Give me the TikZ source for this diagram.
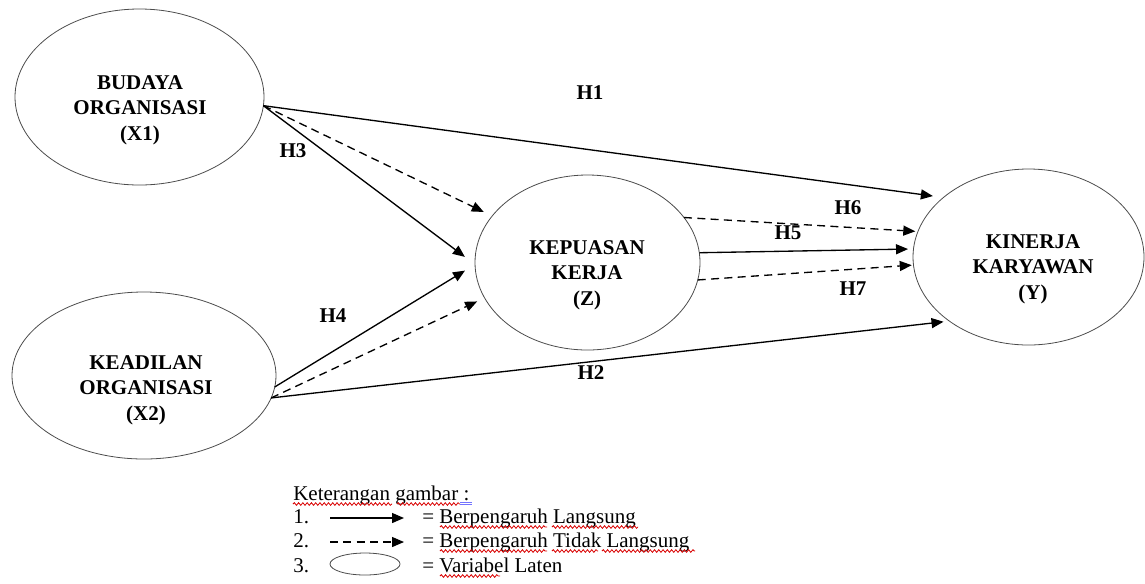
\documentclass[tikz,border=0pt]{standalone}
\usepackage{fontspec}
\setmainfont{Liberation Serif}
\usetikzlibrary{shapes.geometric,arrows.meta,decorations.pathmorphing}
\begin{document}
\begin{tikzpicture}[x=0.75pt,y=-0.75pt,
  latent/.style={ellipse,draw=black!70,line width=0.6pt,inner sep=0pt,outer sep=0pt},
  vtext/.style={align=center,font=\bfseries\fontsize{15.75}{19.1}\selectfont,inner sep=0pt},
  hlbl/.style={font=\bfseries\fontsize{15.75}{19}\selectfont,inner sep=0pt},
  direct/.style={line width=1pt,-{Triangle[length=9pt,width=7.5pt]}},
  indirect/.style={direct,dash pattern=on 6pt off 4pt},
  legtext/.style={font=\fontsize{15.75}{19}\selectfont,anchor=base west,inner sep=0pt},
  wavy/.style={draw=red!85!black,line width=0.6pt,decorate,decoration={snake,amplitude=1pt,segment length=3.2pt}},
  blueline/.style={draw=blue!55,line width=0.5pt}
]
\useasboundingbox (0,0) rectangle (1145,583);

% latent variables
\node[latent,minimum width=186.75pt,minimum height=132pt] (x1) at (139.5,97) {};
\node[latent,minimum width=198pt,minimum height=125.25pt] (x2) at (144,375.5) {};
\node[latent,minimum width=168.75pt,minimum height=131.25pt] (z) at (587.5,262.5) {};
\node[latent,minimum width=173.25pt,minimum height=132pt] (y) at (1028.5,257) {};

\node[vtext] (x1t) at (140,110) {BUDAYA\\ORGANISASI\\(X1)};
\node[vtext] (x2t) at (146,390) {KEADILAN\\ORGANISASI\\(X2)};
\node[vtext] (zt) at (587,275) {KEPUASAN\\KERJA\\(Z)};
\node[vtext] (yt) at (1033,269) {KINERJA\\KARYAWAN\\(Y)};

% paths
\draw[direct,shorten >=8pt] (x1.-4.6) -- (y.145.1);
\draw[indirect,shorten >=7pt] (x1.-4.6) -- (z.154.6);
\draw[direct,shorten >=9.5pt] (x1.-4.6) -- (z.181.6);
\draw[direct,shorten >=8.8pt] (x2.-5) -- (z.181.7);
\draw[indirect,shorten >=6.2pt] (x2.-10.6) -- (z.199.9);
\draw[direct,shorten >=4.4pt] (x2.-10.6) -- (y.219.1);
\draw[indirect,shorten >=2pt] (z.25.7) -- (y.167.4);
\draw[direct,shorten >=4.1pt] (z.5.4) -- (y.176);
\draw[indirect,shorten >=1.3pt] (z.-9) -- (y.184.9);

% hypothesis labels
\node[hlbl] (h1) at (590,93) {H1};
\node[hlbl] (h3) at (293,151) {H3};
\node[hlbl] (h6) at (848,208) {H6};
\node[hlbl] (h5) at (788,233) {H5};
\node[hlbl] (h7) at (853,289) {H7};
\node[hlbl] (h4) at (333,316) {H4};
\node[hlbl] (h2) at (591,373) {H2};

% legend
\node[legtext] (lk) at (293,500) {Keterangan gambar :};
\node[legtext] (ln1) at (293,523) {1.};
\node[legtext] (ln2) at (293,547) {2.};
\node[legtext] (ln3) at (293,572) {3.};
\coordinate (l1s) at (330,518);
\coordinate (l1e) at (404,518);
\coordinate (l2s) at (330,542);
\coordinate (l2e) at (404,542);
\draw[direct] (l1s) -- (l1e);
\draw[indirect] (l2s) -- (l2e);
\node[latent,minimum width=52.5pt,minimum height=16.5pt] (l3) at (365,564) {};
\node[legtext] (lt1) at (422,523) {= Berpengaruh Langsung};
\node[legtext] (lt2) at (422,547) {= Berpengaruh Tidak Langsung};
\node[legtext] (lt3) at (422,572) {= Variabel Laten};

% spell-check underlines
\draw[wavy] (293,504) -- (392,504);
\draw[wavy] (397,504) -- (460,504);
\draw[blueline] (460,502.7) -- (472,502.7);
\draw[blueline] (460,504.7) -- (472,504.7);
\draw[wavy] (440,527) -- (547,527);
\draw[wavy] (552,527) -- (638,527);
\draw[wavy] (440,551) -- (547,551);
\draw[wavy] (552,551) -- (598,551);
\draw[wavy] (602,551) -- (695,551);
\draw[wavy] (440,576) -- (500,576);
\end{tikzpicture}
\end{document}
